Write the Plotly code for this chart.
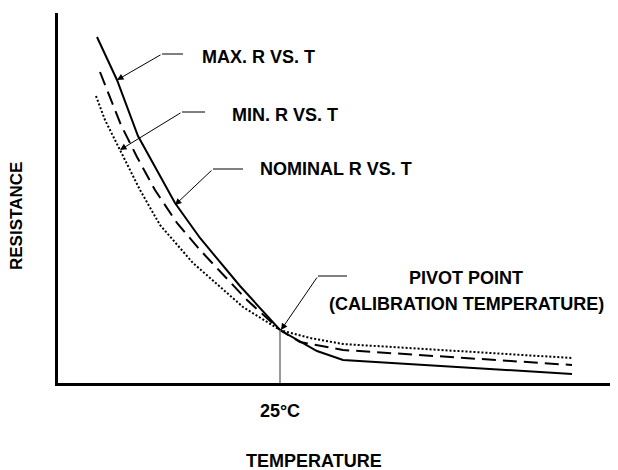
import plotly.graph_objects as go

# Schematic resistance-vs-temperature curves (arbitrary units)
max_temp = [39, 59, 80, 102, 117, 142, 182, 222, 259, 285, 514]
max_res = [346, 303, 247, 207, 180, 145, 97, 53, 32, 23, 9]

nom_temp = [42, 63, 79, 97, 119, 142, 189, 222, 242, 285, 514]
nom_res = [311, 258, 226, 193, 160, 133, 83, 53, 41, 33, 18]

min_temp = [38, 47, 62, 82, 102, 135, 185, 222, 252, 285, 514]
min_res = [287, 263, 233, 193, 158, 120, 76, 53, 45, 39, 25]

pivot_temp = 222
pivot_res = 53
tick_vals = [pivot_temp]
tick_text = ["25°C"]

FONT = dict(family="Liberation Sans, Arial, sans-serif", size=18, color="black", weight="bold")
FONT_Y = dict(FONT, size=17)

fig = go.Figure()
fig.add_trace(go.Scatter(x=min_temp, y=min_res, mode="lines", name="Min",
                         line=dict(color="black", width=2, dash="2px,2px")))
fig.add_trace(go.Scatter(x=nom_temp, y=nom_res, mode="lines", name="Nominal",
                         line=dict(color="black", width=2, dash="14px,7px")))
fig.add_trace(go.Scatter(x=max_temp, y=max_res, mode="lines", name="Max",
                         line=dict(color="black", width=2)))

# vertical line at pivot
fig.add_shape(type="line", x0=pivot_temp, x1=pivot_temp, y0=0, y1=pivot_res,
              line=dict(color="#777777", width=1.5))

# leaders: (tip_x, tip_y, tail_x, tail_y, hor_end_x)
leaders = [
    (59, 303, 104, 329, 125),
    (62, 233, 124, 271, 147),
    (117, 178, 155, 214, 185),
    (223, 53, 260, 107, 289),
]
for tx, ty, ax, ay, hx in leaders:
    fig.add_shape(type="line", x0=ax, x1=hx, y0=ay, y1=ay,
                  line=dict(color="black", width=1))
    fig.add_annotation(x=tx, y=ty, ax=ax, ay=ay, axref="x", ayref="y",
                       xref="x", yref="y", text="", showarrow=True,
                       arrowhead=2, arrowsize=1.3, arrowwidth=1, arrowcolor="black", standoff=0)

labels = [
    ("MAX. R VS. T", 142, 326, "left"),
    ("MIN. R VS. T", 172, 268, "left"),
    ("NOMINAL R VS. T", 200, 214, "left"),
    ("PIVOT POINT", 408, 105, "center"),
    ("(CALIBRATION TEMPERATURE)", 408, 79, "center"),
]
for txt, x, y, anc in labels:
    fig.add_annotation(x=x, y=y, xref="x", yref="y", text=txt, showarrow=False,
                       xanchor=anc, yanchor="middle", font=FONT)

fig.add_annotation(x=-41 / 560, y=(383 - 216) / 370, xref="paper", yref="paper",
                   text="RESISTANCE", textangle=-90, showarrow=False,
                   xanchor="center", yanchor="middle", font=FONT_Y)
fig.add_annotation(x=(314 - 58) / 560, y=(383 - 461) / 370, xref="paper", yref="paper",
                   text="TEMPERATURE", showarrow=False,
                   xanchor="center", yanchor="middle", font=FONT)

# page body has an 8px margin: figure is shifted accordingly
fig.update_layout(
    width=610, height=462,
    margin=dict(l=50, r=0, t=5, b=87),
    paper_bgcolor="white", plot_bgcolor="white",
    showlegend=False,
    xaxis=dict(range=[0, 560], showline=True, linewidth=3, linecolor="black",
               showgrid=False, zeroline=False, ticks="",
               tickvals=tick_vals, ticktext=tick_text, tickfont=FONT,
               ticklabelstandoff=9, fixedrange=True),
    yaxis=dict(range=[0, 370], showline=True, linewidth=3, linecolor="black",
               showgrid=False, zeroline=False, ticks="", showticklabels=False,
               fixedrange=True),
)

fig.write_html("out.html")
